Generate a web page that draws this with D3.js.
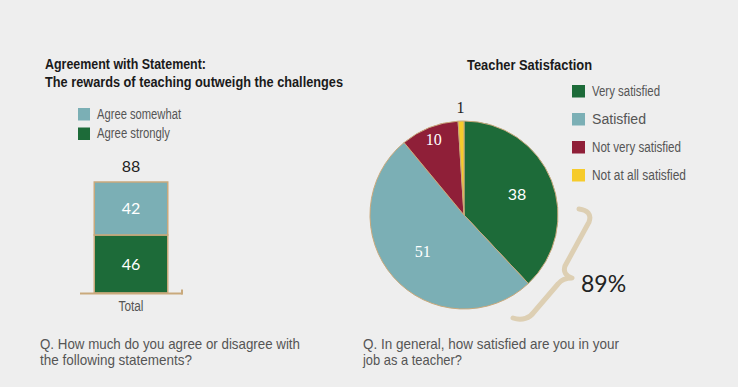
<!DOCTYPE html>
<html>
<head>
<meta charset="utf-8">
<script src="https://cdn.jsdelivr.net/npm/d3@7"></script>
<style>
body { margin: 0; background: #eeeeee; }
svg { display: block; }
</style>
</head>
<body>
<div id="chart"></div>
<script>
var widthsvg = 738;
var heightsvg = 387;

// data
var barCategories = ["Total"];
var barSeries = ["Agree strongly", "Agree somewhat"];
var agreeStrongly = [46];
var agreeSomewhat = [42];
var barTotals = [88];

var pieLabels = ["Very satisfied", "Satisfied", "Not very satisfied", "Not at all satisfied"];
var pieValues = [38, 51, 10, 1];
var satisfiedShare = "89%";

var narrow = "'Liberation Sans', Arial, sans-serif";
var tan = "#c9a97c";

var svg = d3.select("#chart")
    .append("svg")
    .attr("width", widthsvg)
    .attr("height", heightsvg);

svg.append("rect").attr("width", widthsvg).attr("height", heightsvg).attr("fill", "#eeeeee");

// squeeze text to a condensed look
function condensed(sel, size, width, bold) {
    sel.style("font-family", narrow)
        .style("font-size", size + "px")
        .style("font-weight", bold ? "bold" : "normal")
        .attr("textLength", width)
        .attr("lengthAdjust", "spacingAndGlyphs");
    return sel;
}

// ---- left: stacked bar ----
var barColors = {"Agree strongly": "#1d6b39", "Agree somewhat": "#7bafb5"};

condensed(svg.append("text").attr("x", 45).attr("y", 69).attr("fill", "#1a1a1a")
    .text("Agreement with Statement:"), 14.5, 161, true);
condensed(svg.append("text").attr("x", 45).attr("y", 87).attr("fill", "#1a1a1a")
    .text("The rewards of teaching outweigh the challenges"), 14.5, 298, true);

var legendLeftWidths = [84, 73];
var legendLeft = svg.append("g");
["Agree somewhat", "Agree strongly"].forEach(function(s, i) {
    legendLeft.append("rect")
        .attr("x", 78).attr("y", 108 + i * 19.5)
        .attr("width", 12).attr("height", 12.5)
        .attr("fill", barColors[s]);
    condensed(legendLeft.append("text")
        .attr("x", 97).attr("y", 118.5 + i * 19.5)
        .attr("fill", "#555")
        .text(s), 14, legendLeftWidths[i], false);
});

var x = d3.scaleBand().domain(barCategories).range([80, 182]).paddingInner(0).paddingOuter(0.194);
var y = d3.scaleLinear().domain([0, 88]).range([293, 182]);

var rows = barCategories.map(function(c, i) {
    return {cat: c, "Agree strongly": agreeStrongly[i], "Agree somewhat": agreeSomewhat[i], total: barTotals[i]};
});
var stacked = d3.stack().keys(barSeries)(rows);

var barGroup = svg.append("g");
stacked.forEach(function(layer) {
    barGroup.selectAll(null)
        .data(layer)
        .enter()
        .append("rect")
        .attr("x", d => x(d.data.cat))
        .attr("y", d => y(d[1]))
        .attr("width", x.bandwidth())
        .attr("height", d => y(d[0]) - y(d[1]))
        .attr("fill", barColors[layer.key])
        .attr("stroke", tan)
        .attr("stroke-width", 1.5);
    barGroup.selectAll(null)
        .data(layer)
        .enter()
        .append("text")
        .attr("x", d => x(d.data.cat) + x.bandwidth() / 2)
        .attr("y", d => (y(d[0]) + y(d[1])) / 2 + 6)
        .attr("text-anchor", "middle")
        .style("font-family", "Lato, sans-serif").style("font-size", "16px")
        .attr("fill", "#fff")
        .text(d => d.data[layer.key]);
});

barGroup.selectAll(null)
    .data(rows)
    .enter()
    .append("text")
    .attr("x", d => x(d.cat) + x.bandwidth() / 2)
    .attr("y", d => y(d.total) - 10)
    .attr("text-anchor", "middle")
    .style("font-family", "Lato, sans-serif").style("font-size", "16px")
    .attr("fill", "#222")
    .text(d => d.total);

// axis
var axisG = svg.append("g").attr("transform", "translate(0,293.5)");
axisG.call(d3.axisBottom(x).tickSize(0).tickPadding(8));
axisG.select(".domain").remove();
axisG.append("line").attr("x1", 80).attr("x2", 182.5).attr("y1", 0).attr("y2", 0)
    .attr("stroke", tan).attr("stroke-width", 2);
axisG.append("line").attr("x1", 182).attr("x2", 182).attr("y1", 1).attr("y2", -4)
    .attr("stroke", tan).attr("stroke-width", 2);
condensed(axisG.selectAll(".tick text"), 14, 25, false).attr("fill", "#555");

// question
condensed(svg.append("text").attr("x", 40).attr("y", 349).attr("fill", "#555")
    .text("Q. How much do you agree or disagree with"), 14.5, 260, false);
condensed(svg.append("text").attr("x", 40).attr("y", 365).attr("fill", "#555")
    .text("the following statements?"), 14.5, 152, false);

// ---- right: pie ----
condensed(svg.append("text").attr("x", 467).attr("y", 70).attr("fill", "#1a1a1a")
    .text("Teacher Satisfaction"), 15, 125, true);

var pieColors = d3.scaleOrdinal().domain(pieLabels)
    .range(["#1d6b39", "#7bafb5", "#8f1f38", "#f6cb2b"]);

var cx = 464, cy = 215, r = 94;
var pie = d3.pie().sort(null).value(d => d.value);
var arcs = pie(pieLabels.map((l, i) => ({label: l, value: pieValues[i]})));
var arc = d3.arc().innerRadius(0).outerRadius(r);

var pieG = svg.append("g").attr("transform", `translate(${cx},${cy})`);
pieG.selectAll("path")
    .data(arcs)
    .enter()
    .append("path")
    .attr("d", arc)
    .attr("fill", d => pieColors(d.data.label))
    .attr("stroke", tan)
    .attr("stroke-width", 1);

var labelRadius = [57, 55, 82, 108];
pieG.selectAll("text")
    .data(arcs)
    .enter()
    .append("text")
    .attr("transform", function(d, i) {
        var a = (d.startAngle + d.endAngle) / 2;
        var rr = labelRadius[i];
        return `translate(${rr * Math.sin(a)},${-rr * Math.cos(a) + 6})`;
    })
    .attr("text-anchor", "middle")
    .style("font-family", (d, i) => i === 0 ? "Lato, sans-serif" : "'Liberation Serif', serif")
    .style("font-size", "16px")
    .attr("fill", (d, i) => i === 3 ? "#222" : "#fff")
    .text(d => d.data.value);

var legendRightWidths = [68, 54, 89, 94];
var legendRight = svg.append("g");
pieLabels.forEach(function(l, i) {
    legendRight.append("rect")
        .attr("x", 572).attr("y", 85 + i * 28)
        .attr("width", 13).attr("height", 12.5)
        .attr("fill", pieColors(l));
    condensed(legendRight.append("text")
        .attr("x", 592).attr("y", 95.5 + i * 28)
        .attr("fill", "#555")
        .text(l), 14, legendRightWidths[i], false);
});

// brace
svg.append("path")
    .attr("d", "M579,209 C587,210 592,214 589,222 L565,266 C563,272 566,276 572,278 C566,278 561,280 558,284 L534,312 C530,318 522,321 513,318")
    .attr("fill", "none")
    .attr("stroke", "#ddcfb3")
    .attr("stroke-width", 5)
    .attr("stroke-linecap", "round")
    .attr("stroke-linejoin", "round");

svg.append("text")
    .attr("x", 581).attr("y", 292)
    .style("font-family", "Lato, sans-serif").style("font-size", "23px")
    .attr("fill", "#222")
    .text(satisfiedShare);

condensed(svg.append("text").attr("x", 363).attr("y", 349).attr("fill", "#555")
    .text("Q. In general, how satisfied are you in your"), 14.5, 256, false);
condensed(svg.append("text").attr("x", 363).attr("y", 365).attr("fill", "#555")
    .text("job as a teacher?"), 14.5, 99, false);
</script>
</body>
</html>
